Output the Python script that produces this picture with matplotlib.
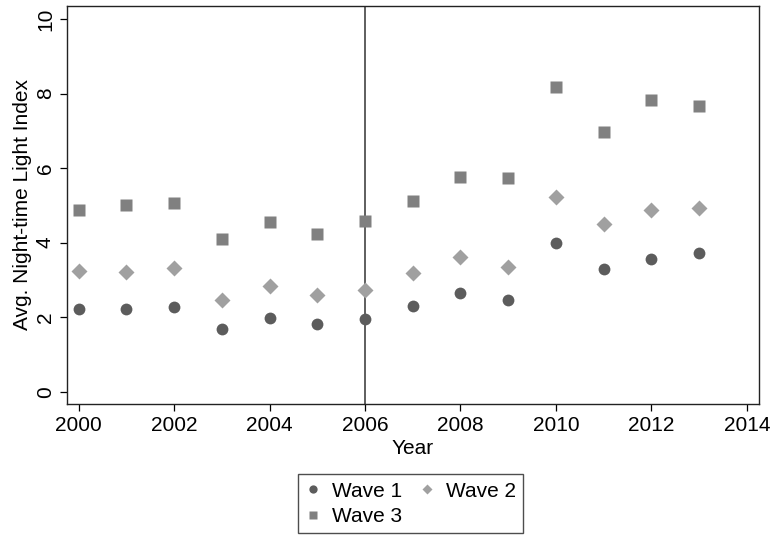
import numpy as np
import matplotlib
matplotlib.use("Agg")
import matplotlib.pyplot as plt

plt.rcParams["font.family"] = ["Liberation Sans", "DejaVu Sans"]

# ── data ─────────────────────────────────────────────────────────────────────
years = [2000, 2001, 2002, 2003, 2004, 2005, 2006,
         2007, 2008, 2009, 2010, 2011, 2012, 2013]
wave1 = [2.23, 2.21, 2.28, 1.67, 1.97, 1.81, 1.94,
         2.31, 2.64, 2.46, 3.98, 3.28, 3.55, 3.71]
wave2 = [3.24, 3.22, 3.31, 2.47, 2.84, 2.60, 2.72,
         3.19, 3.61, 3.35, 5.23, 4.51, 4.88, 4.94]
wave3 = [4.87, 5.01, 5.05, 4.11, 4.55, 4.23, 4.59,
         5.11, 5.75, 5.73, 8.18, 6.98, 7.82, 7.67]
x_ticks = [2000, 2002, 2004, 2006, 2008, 2010, 2012, 2014]
y_ticks = [0, 2, 4, 6, 8, 10]
cutoff_year = 2006

FS = 15

fig = plt.figure(figsize=(7.7, 5.35), dpi=100)
ax = fig.add_axes([0.0866, 0.2449, 0.8994, 0.7439])

ax.axvline(cutoff_year, color="#333333", lw=1.1, zorder=1)
h1, = ax.plot(years, wave1, "o", ms=8.5, color="#5c5c5c", mec="none", label="Wave 1", zorder=3)
h2, = ax.plot(years, wave2, "D", ms=8.0, color="#a0a0a0", mec="none", label="Wave 2", zorder=3)
h3, = ax.plot(years, wave3, "s", ms=8.0, color="#808080", mec="none", label="Wave 3", zorder=3)

ax.set_xlim(1999.75, 2014.26)
ax.set_ylim(-0.33, 10.35)
ax.set_xticks(x_ticks)
ax.set_yticks(y_ticks)
ax.tick_params(direction="out", length=5, width=0.9, labelsize=FS, colors="black")
for lab in ax.get_yticklabels():
    lab.set_rotation(90)
    lab.set_va("center")
for side in ["top", "right", "left", "bottom"]:
    ax.spines[side].set_linewidth(1.0)
    ax.spines[side].set_color("#222222")

ax.set_xlabel("Year", fontsize=FS, labelpad=3)
ax.set_ylabel("Avg. Night-time Light Index", fontsize=FS, labelpad=3)

# row-wise order: Wave 1, Wave 2 / Wave 3
leg = fig.legend([h1, h3, h2], ["Wave 1", "Wave 3", "Wave 2"],
                 loc="lower center", bbox_to_anchor=(0.533, -0.016), ncol=2,
                 fontsize=FS, frameon=True, fancybox=False, edgecolor="#222222",
                 handlelength=0.8, handletextpad=0.5, columnspacing=0.8,
                 borderpad=0.35, labelspacing=0.3, markerscale=0.7)
leg.get_frame().set_linewidth(1.0)

fig.savefig("out.png", dpi=100)
